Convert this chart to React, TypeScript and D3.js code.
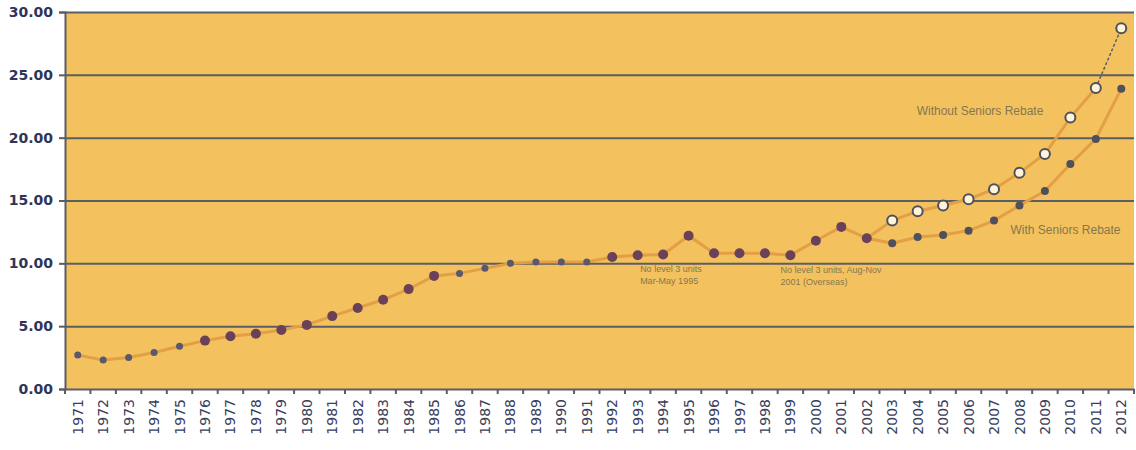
import { useEffect, useRef } from 'react'
import * as d3 from 'd3'

const years = d3.range(1971, 2013).map(String)

// single series up to 2002
const baseValues = [
  2.7, 2.3, 2.5, 2.9, 3.4, 3.85, 4.2, 4.4, 4.7, 5.1,
  5.8, 6.45, 7.1, 7.95, 9.0, 9.2, 9.6, 10.0, 10.1, 10.1,
  10.1, 10.5, 10.65, 10.7, 12.2, 10.8, 10.8, 10.8, 10.65, 11.8,
  12.9, 12.0,
]
const splitYears = ['2003', '2004', '2005', '2006', '2007', '2008', '2009', '2010', '2011', '2012']
const withoutRebate = [13.4, 14.15, 14.6, 15.1, 15.9, 17.2, 18.7, 21.6, 23.95, 28.7]
const withRebate = [11.6, 12.1, 12.25, 12.6, 13.4, 14.6, 15.75, 17.9, 19.9, 23.9]
const yTicks = [0, 5, 10, 15, 20, 25, 30]

export default function App() {
  const svgRef = useRef<SVGSVGElement>(null)

  useEffect(() => {
    if (!svgRef.current) return
    const svg = d3.select(svgRef.current)
    svg.selectAll('*').remove()

    const margin = { top: 12, right: 2, bottom: 61, left: 65 }
    const width = 1136 - margin.left - margin.right
    const height = 450 - margin.top - margin.bottom

    const g = svg.append('g').attr('transform', `translate(${margin.left},${margin.top})`)

    const x = d3.scaleBand().domain(years).range([0, width])
    const y = d3.scaleLinear().domain([0, 30]).range([height, 0])
    const cx = (yr: string) => (x(yr) as number) + x.bandwidth() / 2

    g.append('rect').attr('width', width).attr('height', height).attr('fill', '#f3c25e')

    // grid
    g.append('g')
      .call(d3.axisLeft(y).tickValues(yTicks.slice(1)).tickSize(-width).tickFormat(() => ''))
      .call(s => s.select('.domain').remove())
      .call(s => s.selectAll('.tick line').attr('stroke', '#5a5c66').attr('stroke-width', 2))

    const base = years.slice(0, baseValues.length).map((yr, i) => ({ yr, v: baseValues[i] }))
    const last = base[base.length - 1]
    const without = [last, ...splitYears.map((yr, i) => ({ yr, v: withoutRebate[i] }))]
    const withR = [last, ...splitYears.map((yr, i) => ({ yr, v: withRebate[i] }))]

    const line = d3.line<{ yr: string; v: number }>().x(d => cx(d.yr)).y(d => y(d.v))

    const lineColor = '#e39f45'
    g.append('path').datum(base).attr('fill', 'none').attr('stroke', lineColor).attr('stroke-width', 3).attr('d', line)
    g.append('path').datum(withR).attr('fill', 'none').attr('stroke', lineColor).attr('stroke-width', 3).attr('d', line)
    g.append('path').datum(without.slice(0, -1)).attr('fill', 'none').attr('stroke', lineColor).attr('stroke-width', 3).attr('d', line)
    g.append('path').datum(without.slice(-2)).attr('fill', 'none').attr('stroke', '#5a5c66')
      .attr('stroke-width', 1.5).attr('stroke-dasharray', '3,2').attr('d', line)

    // markers
    g.append('g').selectAll('circle').data(base).join('circle')
      .attr('cx', d => cx(d.yr)).attr('cy', d => y(d.v))
      .attr('r', (d, i) => (i < 5 || (i >= 15 && i <= 20) ? 3.5 : 5))
      .attr('fill', (d, i) => (i < 5 || (i >= 15 && i <= 20) ? '#5a5870' : '#6b4159'))
    g.append('g').selectAll('circle').data(withR.slice(1)).join('circle')
      .attr('cx', d => cx(d.yr)).attr('cy', d => y(d.v)).attr('r', 4).attr('fill', '#4f4f5e')
    g.append('g').selectAll('circle').data(without.slice(1)).join('circle')
      .attr('cx', d => cx(d.yr)).attr('cy', d => y(d.v)).attr('r', 5)
      .attr('fill', '#fff4d8').attr('stroke', '#4f4f5e').attr('stroke-width', 2)

    // annotations
    const note = (lines: string[], yr: string, v: number, dx: number, size: number) => {
      const t = g.append('text').attr('y', y(v))
        .attr('font-family', 'Liberation Sans, Arial, sans-serif').attr('font-size', size).attr('fill', '#85774f')
      lines.forEach((l, i) => t.append('tspan').attr('x', cx(yr) + dx).attr('dy', i === 0 ? 0 : 12).text(l))
    }
    note(['No level 3 units', 'Mar-May 1995'], '1994', 9.3, -23, 9)
    note(['No level 3 units,  Aug-Nov', '2001 (Overseas)'], '1999', 9.2, -10, 9)
    note(['Without Seniors Rebate'], '2004', 21.8, -1, 12)
    note(['With Seniors Rebate'], '2008', 12.3, -9, 12)

    // axes
    g.append('g').attr('transform', `translate(0,${height})`)
      .call(d3.axisBottom(x).tickSize(0).tickPadding(6))
      .call(s => s.select('.domain').attr('stroke', '#5a5c66').attr('stroke-width', 2))
      .call(s => s.selectAll('.tick text')
        .attr('transform', 'rotate(-90)').attr('text-anchor', 'end')
        .attr('x', -10).attr('y', 0).attr('dy', '0.36em')
        .attr('font-size', 14).attr('font-family', 'DejaVu Sans, sans-serif').attr('fill', '#3a3d5c'))

    g.append('g').attr('transform', `translate(0,${height})`)
      .selectAll('line').data(d3.range(years.length + 1)).join('line')
      .attr('x1', i => i * x.step()).attr('x2', i => i * x.step())
      .attr('y1', 0).attr('y2', 5).attr('stroke', '#5a5c66').attr('stroke-width', 2)

    g.append('g')
      .call(d3.axisLeft(y).tickValues(yTicks).tickSize(6).tickPadding(6).tickFormat(d => (d as number).toFixed(2)))
      .call(s => s.select('.domain').attr('stroke', '#5a5c66').attr('stroke-width', 2))
      .call(s => s.selectAll('.tick line').attr('stroke', '#5a5c66').attr('stroke-width', 2))
      .call(s => s.selectAll('.tick text')
        .attr('font-size', 14).attr('font-weight', 'bold')
        .attr('font-family', 'DejaVu Sans, sans-serif').attr('fill', '#2e3558'))
  }, [])

  return <svg ref={svgRef} width={1136} height={450} style={{ display: 'block', position: 'absolute', left: 0, top: 0 }} />
}
